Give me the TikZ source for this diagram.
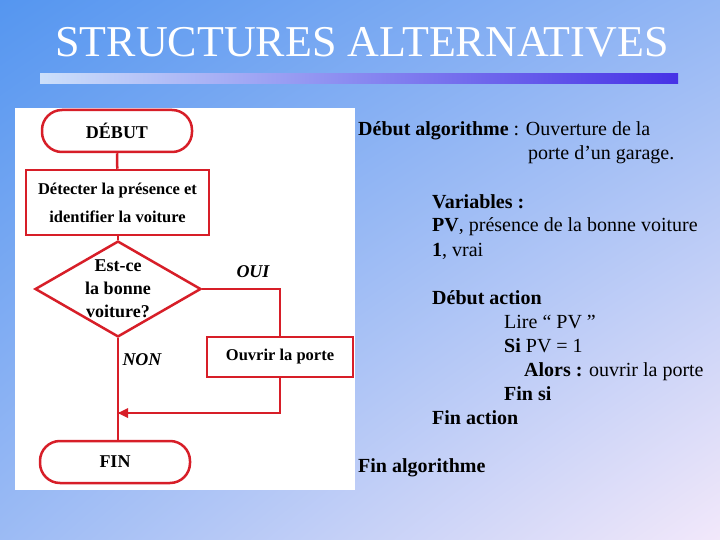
\documentclass[tikz,border=0pt]{standalone}
\usepackage{fontspec}
\setmainfont{Liberation Serif}
\usetikzlibrary{calc}
\usetikzlibrary{shapes.geometric,shadings}
\definecolor{flowred}{RGB}{215,30,40}
\definecolor{bgblue}{RGB}{85,150,240}
\definecolor{bgpale}{RGB}{242,232,250}
\definecolor{barblue}{RGB}{70,50,230}
\tikzset{
  term/.style={draw=flowred, line width=2.5pt, rounded corners=20pt, minimum width=150pt, minimum height=42pt, font=\bfseries\fontsize{18}{20}\selectfont, fill=white},
  box/.style={draw=flowred, line width=2.5pt, font=\bfseries\fontsize{16.5}{28}\selectfont, fill=white, align=center},
  test/.style={draw=flowred, line width=2.5pt, diamond, aspect=1.73, inner sep=0pt, minimum width=156pt, minimum height=90pt, font=\bfseries\fontsize{18}{23}\selectfont, align=center},
  link/.style={flowred, line width=2.5pt},
  txt/.style={anchor=base west, inner sep=0pt, font=\fontsize{20}{22}\selectfont}
}
\begin{document}
\begin{tikzpicture}[x=1pt, y=-1pt]
\useasboundingbox (0,0) rectangle (720,540);
\shade[upper left=bgblue, upper right=bgblue!60!bgpale, lower left=bgblue!55!bgpale, lower right=bgpale] (0,0) rectangle (720,540);

% title
\node[font=\fontsize{44}{48}\selectfont, text=white] (title) at (362,42) {STRUCTURES ALTERNATIVES};
\shade[left color=white!70!bgblue, right color=barblue] (40,74) rectangle (678,84);

% flowchart
\fill[white] (15,108) rectangle (355,490);
\node[term] (debut) at (117,131) {DÉBUT};
\node[box, minimum width=183pt, minimum height=65pt] (detect) at (117.5,202.5) {Détecter la présence et\\identifier la voiture};
\node[test] (choix) at (118,289) {Est-ce\\la bonne\\voiture?};
\node[box, minimum width=146pt, minimum height=40pt] (ouvrir) at (280,357) {Ouvrir la porte};
\node[term] (fin) at (115,462) {FIN};

\coordinate (c2) at (280,413);
\coordinate (c3) at (118,413);

\draw[link] (debut) -- (detect);
\draw[link] (choix.north |- detect.south) -- (choix.north);
\draw[link] (choix.east) -| (ouvrir.north);
\draw[link] (ouvrir) -- (c2) -- (c3);
\fill[flowred] (c3) -- ++(10,-5) -- ++(0,10) -- cycle;
\draw[link] (choix.south) -- (choix.south |- fin.north);

\node[font=\bfseries\itshape\fontsize{18}{20}\selectfont] (oui) at (253,272) {OUI};
\node[font=\bfseries\itshape\fontsize{18}{20}\selectfont] (non) at (142,360) {NON};

% algorithm
\node[txt] (l1) at (358,136) {\textbf{Début algorithme} : Ouverture de la};
\node[txt] (l2) at (528,160) {porte d’un garage.};
\node[txt] (l3) at (432,208) {\textbf{Variables :}};
\node[txt] (l4) at (432,232) {\textbf{PV}, présence de la bonne voiture};
\node[txt] (l5) at (432,256) {\textbf{1}, vrai};
\node[txt] (l6) at (432,304) {\textbf{Début action}};
\node[txt] (l7) at (504,328) {Lire “ PV ”};
\node[txt] (l8) at (504,352) {\textbf{Si} PV = 1};
\node[txt] (l9) at (524,376) {\textbf{Alors :} ouvrir la porte};
\node[txt] (l10) at (504,400) {\textbf{Fin si}};
\node[txt] (l11) at (432,424) {\textbf{Fin action}};
\node[txt] (l12) at (358,472) {\textbf{Fin algorithme}};

\end{tikzpicture}
\end{document}
